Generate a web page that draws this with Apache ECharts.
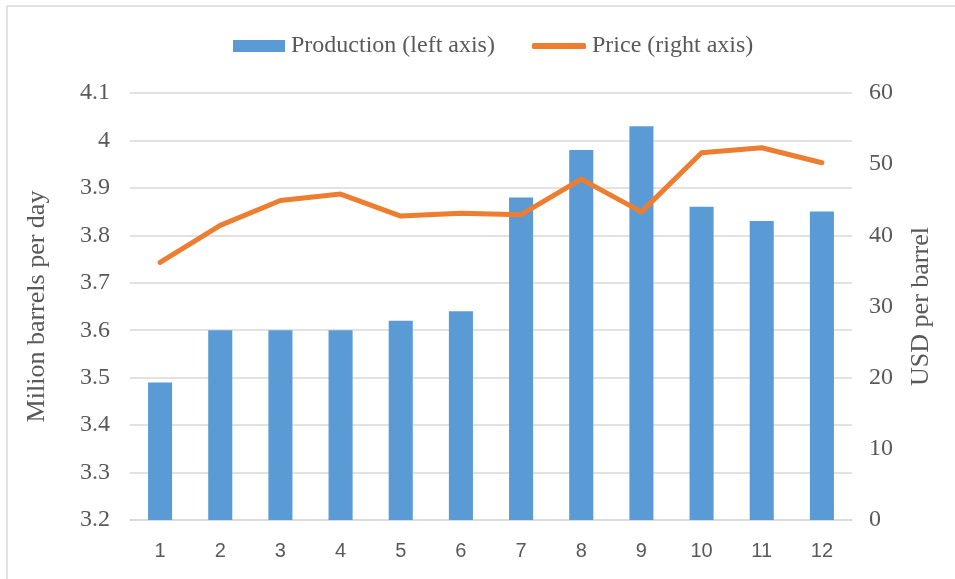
<!DOCTYPE html>
<html>
<head>
<meta charset="utf-8">
<script src="https://cdn.jsdelivr.net/npm/echarts@6/dist/echarts.min.js"></script>
<style>html,body{margin:0;padding:0;background:#fff;}#c{width:955px;height:579px;}</style>
</head>
<body>
<div id="c"></div>
<script>
const categories = ['1','2','3','4','5','6','7','8','9','10','11','12'];
const production = [3.49, 3.60, 3.60, 3.60, 3.62, 3.64, 3.88, 3.98, 4.03, 3.86, 3.83, 3.85];
const price = [36.2, 41.4, 44.9, 45.8, 42.7, 43.1, 42.9, 47.9, 43.3, 51.6, 52.3, 50.2];
const leftName = 'Milion barrels per day';
const rightName = 'USD per barrel';
const seriesNames = ['Production (left axis)', 'Price (right axis)'];

const chart = echarts.init(document.getElementById('c'));
const serif = '"Liberation Serif", "Times New Roman", serif';
const txt = '#595959';
const legendText = {fontFamily: serif, fontSize: 24, color: txt, padding: [0, 0, 0, 1]};
chart.setOption({
  animation: false,
  backgroundColor: '#fff',
  graphic: [
    {type: 'line', shape: {x1: 7, y1: 6, x2: 955, y2: 6}, style: {stroke: '#d9d9d9', lineWidth: 1.5}},
    {type: 'line', shape: {x1: 7, y1: 6, x2: 7, y2: 579}, style: {stroke: '#d9d9d9', lineWidth: 1.5}}
  ],
  legend: [
    {
      top: 29, left: 228,
      itemWidth: 52, itemHeight: 12,
      textStyle: legendText,
      data: [{name: seriesNames[0], icon: 'rect'}]
    },
    {
      top: 29, left: 527,
      itemWidth: 54, itemHeight: 6,
      textStyle: legendText,
      data: [{name: seriesNames[1], icon: 'roundRect', itemStyle: {color: '#ED7D31'}}]
    }
  ],
  grid: {left: 130, right: 103, top: 93, bottom: 59},
  xAxis: {
    type: 'category',
    data: categories,
    axisLine: {lineStyle: {color: '#d9d9d9', width: 1.5}},
    axisTick: {show: false},
    axisLabel: {fontFamily: '"Liberation Sans", Arial, sans-serif', fontSize: 20, color: txt, margin: 21}
  },
  yAxis: [
    {
      type: 'value', min: 3.2, max: 4.1, interval: 0.1,
      name: leftName, nameLocation: 'middle', nameGap: 80,
      nameTextStyle: {fontFamily: serif, fontSize: 26, color: txt},
      axisLine: {show: false}, axisTick: {show: false},
      axisLabel: {fontFamily: serif, fontSize: 24, color: txt, margin: 20,
        formatter: v => String(Math.round(v * 10) / 10)},
      splitLine: {lineStyle: {color: '#d9d9d9', width: 1.5}}
    },
    {
      type: 'value', min: 0, max: 60, interval: 10,
      name: rightName, nameLocation: 'middle', nameGap: 56,
      nameTextStyle: {fontFamily: serif, fontSize: 26, color: txt},
      axisLine: {show: false}, axisTick: {show: false},
      axisLabel: {fontFamily: serif, fontSize: 24, color: txt, margin: 17},
      splitLine: {show: false}
    }
  ],
  series: [
    {
      name: seriesNames[0], type: 'bar', yAxisIndex: 0, data: production,
      barWidth: '40%',
      itemStyle: {color: '#5B9BD5'}
    },
    {
      name: seriesNames[1], type: 'line', yAxisIndex: 1, data: price,
      symbol: 'none',
      lineStyle: {color: '#ED7D31', width: 5, cap: 'round', join: 'round'},
      itemStyle: {color: '#ED7D31'}
    }
  ]
});
</script>
</body>
</html>
